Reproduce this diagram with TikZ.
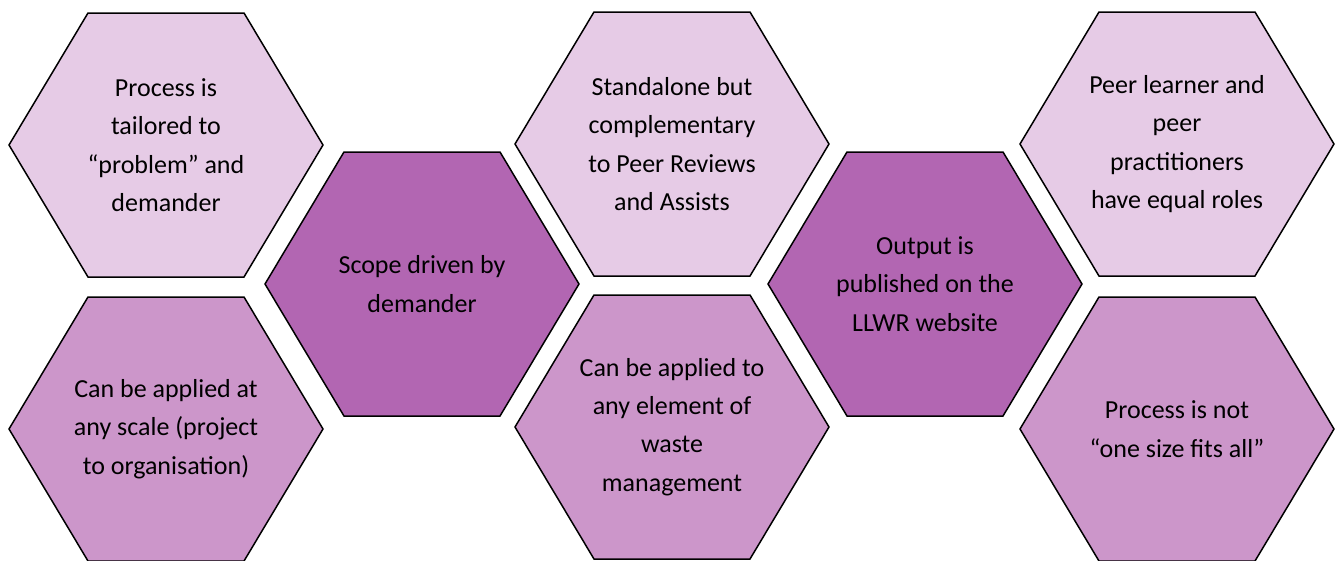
\documentclass[tikz,border=0pt]{standalone}
\usepackage{fontspec}
\setmainfont{Carlito}

\definecolor{cellpale}{HTML}{E6CBE6}
\definecolor{cellmid}{HTML}{CC96CA}
\definecolor{celldark}{HTML}{B266B2}

\tikzset{
  hexline/.style={draw=black,line width=1.5pt,line join=miter},
  hextext/.style={align=center,inner sep=0pt,font=\fontsize{26}{38.3}\selectfont}
}

% one cell of the honeycomb: name, centre x, centre y, fill, text
\newcommand\honeycell[5]{%
  \draw[hexline,fill=#4](#2-157,#3)--++(79,-132)--++(156,0)--++(79,132)--++(-79,132)--++(-156,0)--cycle;
  \node[hextext](#1) at (#2,#3){#5};
}

\begin{document}
\begin{tikzpicture}[x=1pt,y=-1pt]
\useasboundingbox (0,0) rectangle (1336,560);

% top row
\honeycell{tailored}{166}{145}{cellpale}{Process is\\tailored to\\“problem” and\\demander}
\honeycell{standalone}{672}{144}{cellpale}{Standalone but\\complementary\\to Peer Reviews\\and Assists}
\honeycell{peers}{1177}{144}{cellpale}{Peer learner and\\peer\\practitioners\\have equal roles}

% middle row
\honeycell{scope}{422}{284}{celldark}{Scope driven by\\demander}
\honeycell{output}{925}{284}{celldark}{Output is\\published on the\\LLWR website}

% bottom row
\honeycell{anyscale}{166}{429}{cellmid}{Can be applied at\\any scale (project\\to organisation)}
\honeycell{element}{672}{427}{cellmid}{Can be applied to\\any element of\\waste\\management}
\honeycell{notone}{1177}{429}{cellmid}{Process is not\\“one size fits all”}
\end{tikzpicture}
\end{document}
